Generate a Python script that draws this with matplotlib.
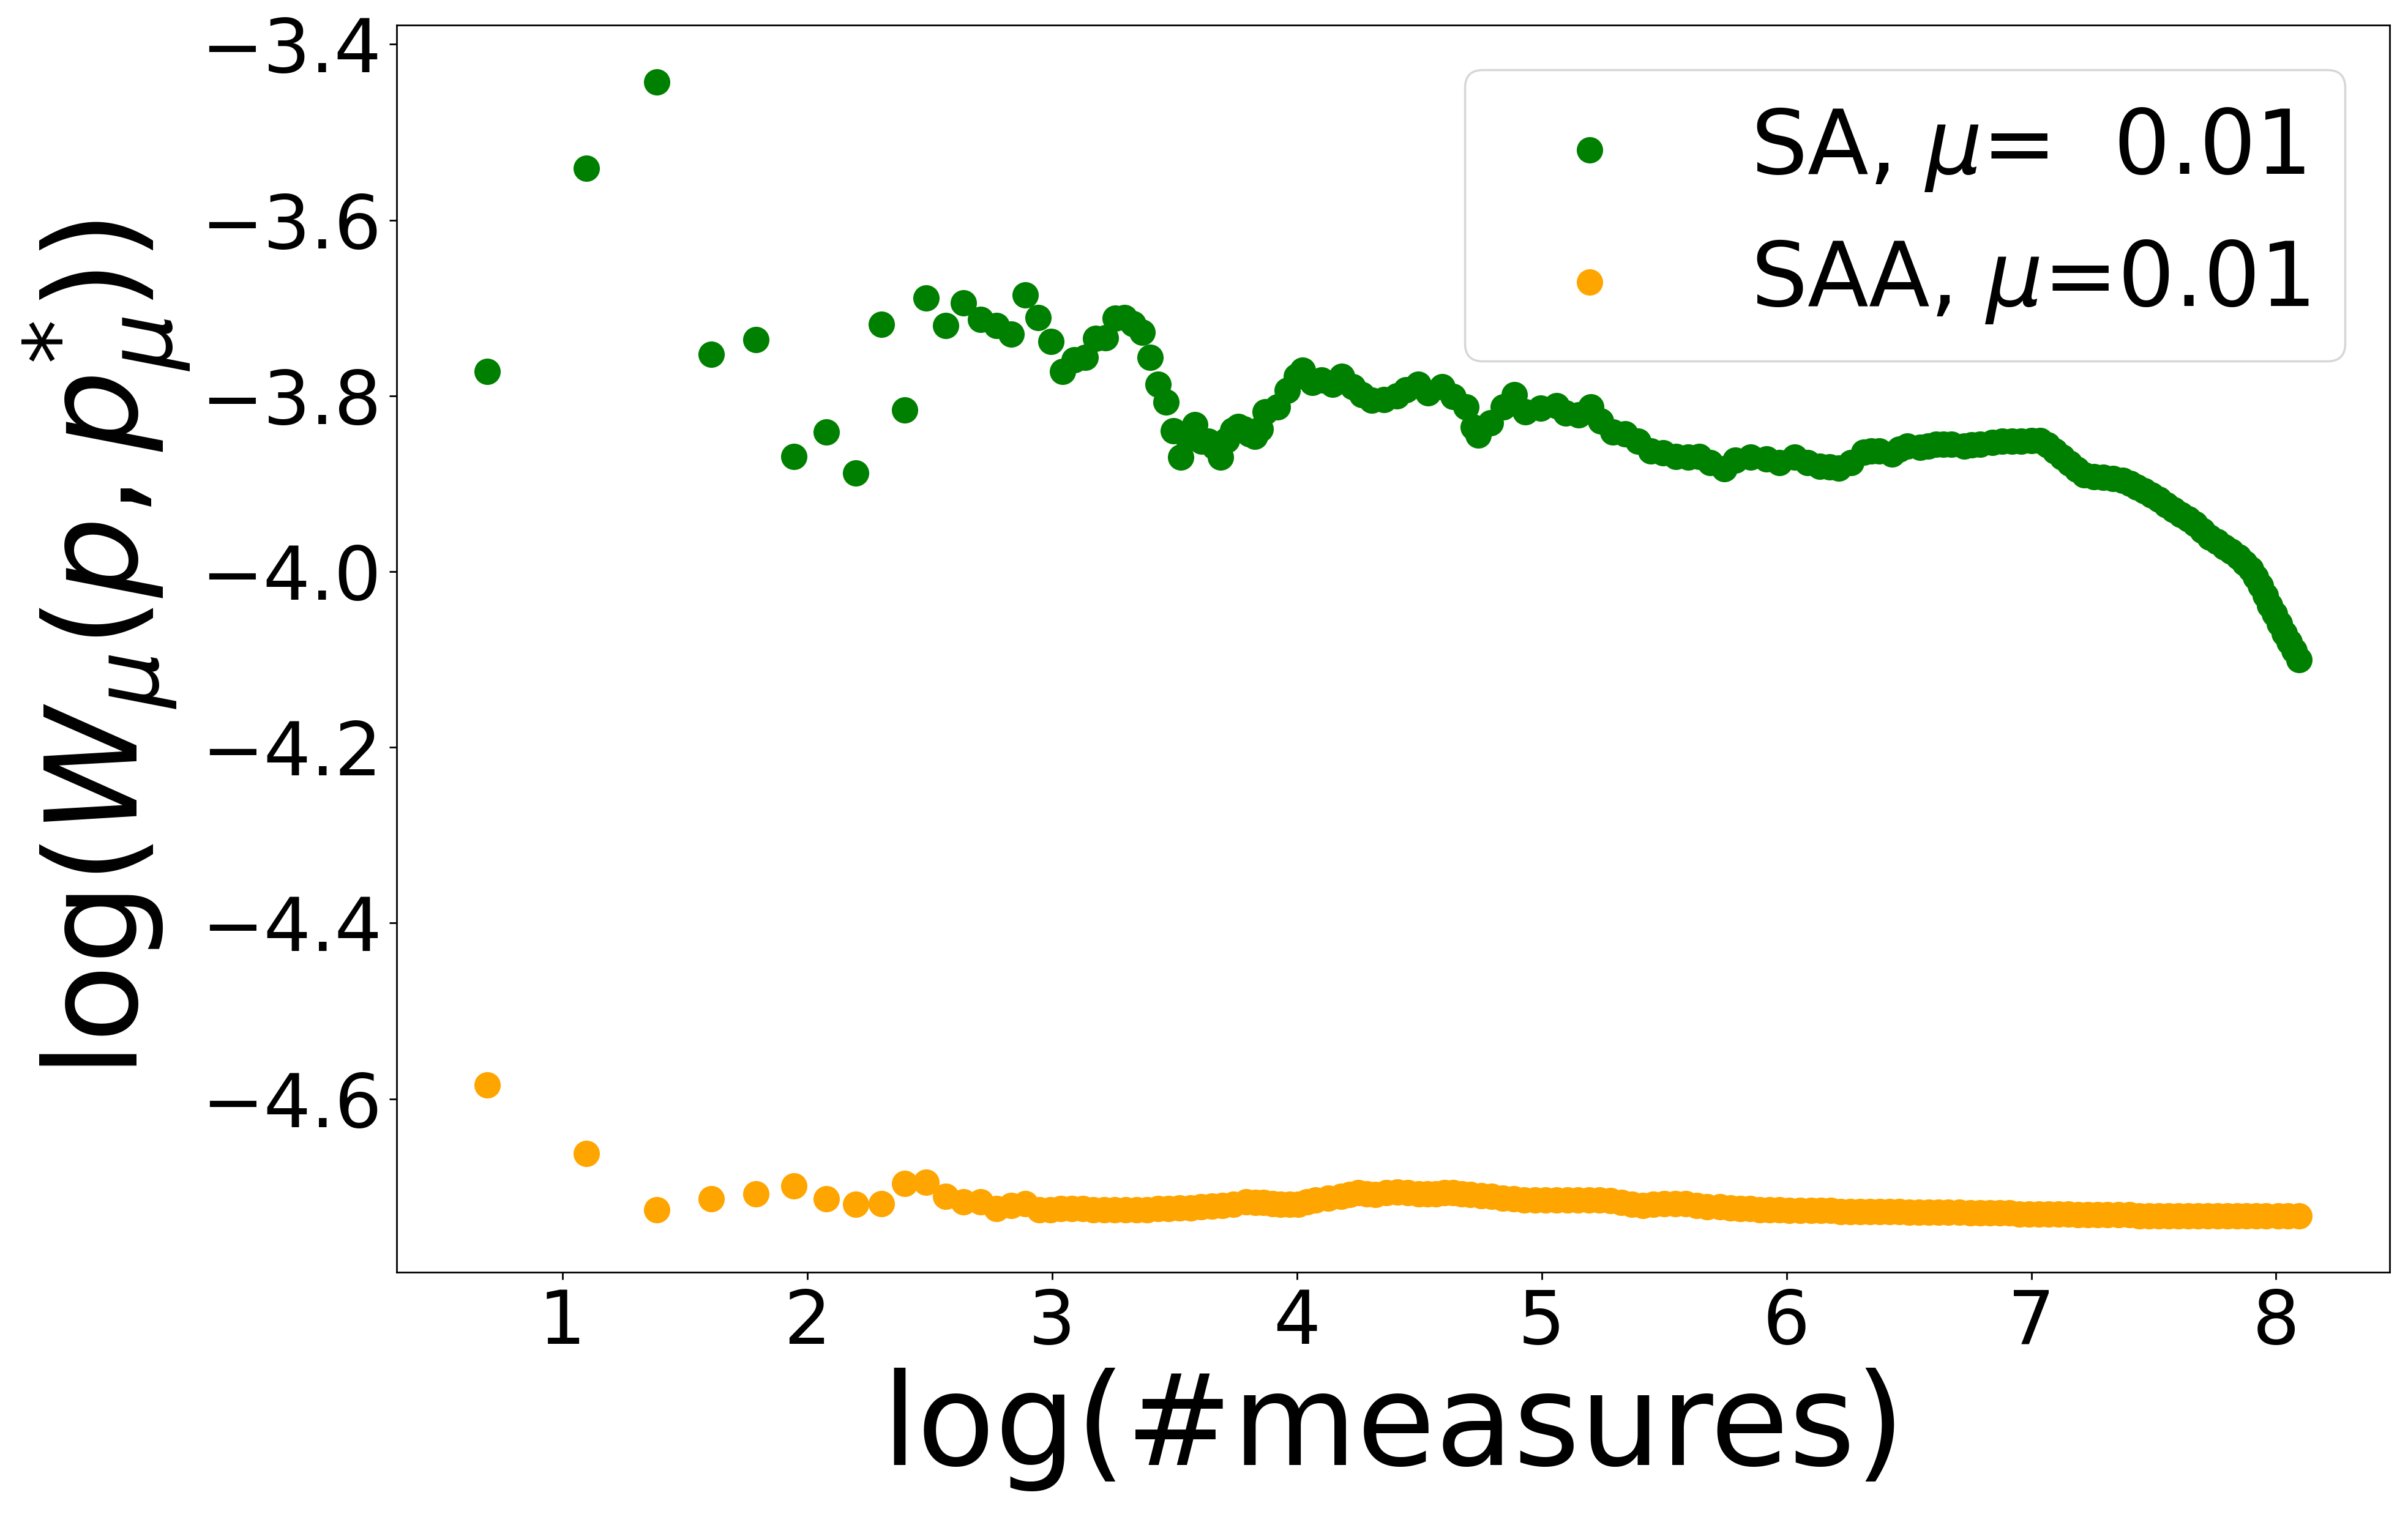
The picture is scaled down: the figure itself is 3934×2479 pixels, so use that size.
import numpy as np
import matplotlib
matplotlib.use("Agg")
import matplotlib.pyplot as plt
from matplotlib.ticker import MultipleLocator

# --- SA (green): first measures are single points, later ones form a dense band ---
sa_measures = list(range(2, 48))
sa_first = [-3.772, -3.541, -3.443, -3.753, -3.736, -3.869, -3.841, -3.888, -3.719, -3.816,
            -3.689, -3.720, -3.694, -3.713, -3.720, -3.730, -3.685, -3.711, -3.738, -3.772,
            -3.759, -3.756, -3.735, -3.734, -3.712, -3.711, -3.718, -3.728, -3.756, -3.787,
            -3.807, -3.840, -3.870, -3.848, -3.833, -3.852, -3.852, -3.858, -3.870, -3.850,
            -3.839, -3.835, -3.838, -3.843, -3.846, -3.838]

sa_band_x = [3.870, 3.922, 3.960, 3.998, 4.024, 4.063, 4.100, 4.145, 4.183, 4.228,
             4.267, 4.305, 4.356, 4.408, 4.447, 4.497, 4.536, 4.594, 4.639, 4.690,
             4.722, 4.740, 4.792, 4.843, 4.888, 4.933, 4.996, 5.061, 5.099, 5.151,
             5.202, 5.240, 5.292, 5.342, 5.394, 5.445, 5.496, 5.548, 5.598, 5.644,
             5.688, 5.746, 5.791, 5.854, 5.919, 5.970, 6.034, 6.085, 6.137, 6.175,
             6.213, 6.263, 6.316, 6.347, 6.379, 6.431, 6.462, 6.494, 6.546, 6.578,
             6.610, 6.642, 6.674, 6.725, 6.757, 6.790, 6.840, 6.880, 6.920, 6.959,
             7.000, 7.037, 7.067, 7.097, 7.127, 7.156, 7.186, 7.215, 7.255, 7.294,
             7.333, 7.373, 7.403, 7.432, 7.462, 7.492, 7.521, 7.551, 7.580, 7.610,
             7.640, 7.669, 7.698, 7.728, 7.758, 7.788, 7.817, 7.847, 7.871, 7.896,
             7.916, 7.936, 7.956, 7.975, 7.995, 8.015, 8.035, 8.054, 8.074, 8.094]
sa_band_y = [-3.818, -3.813, -3.794, -3.778, -3.771, -3.785, -3.782, -3.787, -3.778, -3.790,
             -3.799, -3.805, -3.804, -3.800, -3.793, -3.787, -3.797, -3.790, -3.801, -3.813,
             -3.836, -3.845, -3.831, -3.813, -3.799, -3.818, -3.814, -3.811, -3.820, -3.822,
             -3.813, -3.829, -3.841, -3.843, -3.852, -3.863, -3.865, -3.869, -3.870, -3.869,
             -3.876, -3.883, -3.873, -3.870, -3.872, -3.876, -3.870, -3.876, -3.880, -3.881,
             -3.882, -3.876, -3.864, -3.863, -3.863, -3.866, -3.861, -3.857, -3.859, -3.857,
             -3.855, -3.855, -3.855, -3.857, -3.856, -3.855, -3.853, -3.852, -3.852, -3.852,
             -3.851, -3.851, -3.856, -3.863, -3.870, -3.877, -3.884, -3.890, -3.892, -3.893,
             -3.894, -3.896, -3.900, -3.904, -3.908, -3.913, -3.918, -3.924, -3.930, -3.935,
             -3.940, -3.946, -3.953, -3.961, -3.966, -3.972, -3.977, -3.983, -3.990, -3.997,
             -4.006, -4.016, -4.027, -4.038, -4.048, -4.059, -4.070, -4.080, -4.090, -4.100]

# --- SAA (orange) ---
saa_measures = list(range(2, 19))
saa_first = [-4.584, -4.662, -4.726, -4.714, -4.708, -4.699, -4.714, -4.720, -4.719, -4.696,
             -4.695, -4.711, -4.717, -4.717, -4.725, -4.721, -4.719]

saa_band_x = [2.949, 2.993, 3.037, 3.081, 3.125, 3.169, 3.213, 3.257, 3.301, 3.345,
              3.389, 3.433, 3.477, 3.521, 3.565, 3.609, 3.653, 3.697, 3.741, 3.794,
              3.830, 3.864, 3.900, 3.934, 3.970, 4.005, 4.040, 4.075, 4.128, 4.181,
              4.216, 4.251, 4.287, 4.322, 4.366, 4.410, 4.454, 4.498, 4.533, 4.568,
              4.603, 4.638, 4.674, 4.709, 4.753, 4.797, 4.841, 4.885, 4.929, 4.973,
              5.017, 5.061, 5.105, 5.149, 5.193, 5.237, 5.281, 5.325, 5.369, 5.413,
              5.457, 5.501, 5.545, 5.589, 5.633, 5.677, 5.729, 5.770, 5.810, 5.850,
              5.890, 5.930, 5.970, 6.010, 6.055, 6.100, 6.140, 6.180, 6.220, 6.260,
              6.300, 6.340, 6.380, 6.420, 6.460, 6.500, 6.540, 6.580, 6.620, 6.660,
              6.706, 6.750, 6.790, 6.830, 6.870, 6.910, 6.950, 6.990, 7.031, 7.070,
              7.110, 7.150, 7.190, 7.230, 7.270, 7.310, 7.357, 7.400, 7.440, 7.480,
              7.520, 7.560, 7.600, 7.640, 7.682, 7.720, 7.760, 7.800, 7.840, 7.880,
              7.920, 7.960, 8.008, 8.050, 8.094]
saa_band_y = [-4.726, -4.726, -4.725, -4.725, -4.725, -4.726, -4.726, -4.726, -4.726, -4.726,
              -4.726, -4.725, -4.725, -4.724, -4.724, -4.723, -4.722, -4.721, -4.720, -4.717,
              -4.718, -4.718, -4.719, -4.720, -4.720, -4.720, -4.717, -4.715, -4.713, -4.711,
              -4.709, -4.707, -4.708, -4.709, -4.707, -4.706, -4.707, -4.708, -4.708, -4.708,
              -4.707, -4.707, -4.708, -4.709, -4.710, -4.711, -4.713, -4.714, -4.715, -4.715,
              -4.715, -4.715, -4.715, -4.715, -4.715, -4.715, -4.716, -4.718, -4.720, -4.721,
              -4.720, -4.719, -4.719, -4.719, -4.721, -4.723, -4.723, -4.724, -4.725, -4.725,
              -4.726, -4.726, -4.726, -4.727, -4.727, -4.727, -4.727, -4.727, -4.728, -4.728,
              -4.728, -4.728, -4.728, -4.728, -4.728, -4.729, -4.729, -4.729, -4.729, -4.729,
              -4.729, -4.730, -4.730, -4.730, -4.730, -4.730, -4.731, -4.731, -4.731, -4.731,
              -4.731, -4.731, -4.732, -4.732, -4.732, -4.732, -4.732, -4.732, -4.733, -4.733,
              -4.733, -4.733, -4.733, -4.733, -4.733, -4.733, -4.733, -4.733, -4.733, -4.733,
              -4.733, -4.733, -4.733, -4.733, -4.733]

sa_x = np.concatenate([np.log(sa_measures), sa_band_x])
sa_y = np.concatenate([sa_first, sa_band_y])
saa_x = np.concatenate([np.log(saa_measures), saa_band_x])
saa_y = np.concatenate([saa_first, saa_band_y])

fig = plt.figure(figsize=(15.736, 9.916), dpi=250)
ax = fig.add_axes([0.1647, 0.1612, 0.9924 - 0.1647, 0.9833 - 0.1612])

ax.scatter(sa_x, sa_y, s=130, color='green', label='SA, $\\mu$=  0.01')
ax.scatter(saa_x, saa_y, s=130, color='orange', label='SAA, $\\mu$=0.01')

ax.xaxis.set_major_locator(MultipleLocator(1))
ax.set_xlabel('log(#measures)', fontsize=60)
ax.set_ylabel(r'log($W_{\mu}(p,p_{\mu}^{*})$)', fontsize=60)
ax.tick_params(axis='both', labelsize=35)
ax.legend(fontsize=42, loc='upper right')

fig.savefig('out.png', dpi=250)
